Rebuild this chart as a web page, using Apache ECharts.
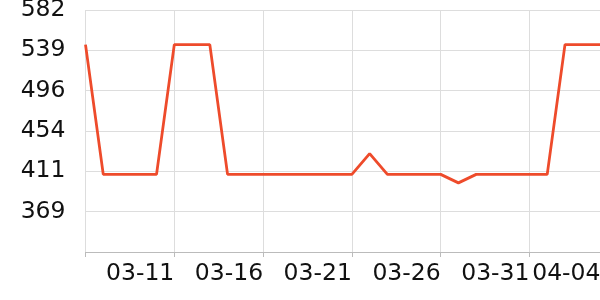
<!DOCTYPE html>
<html>
<head>
<meta charset="utf-8">
<script src="https://cdn.jsdelivr.net/npm/echarts@6/dist/echarts.min.js"></script>
<style>html,body{margin:0;padding:0;background:#fff}#c{width:600px;height:300px}</style>
</head>
<body>
<div id="c"></div>
<script>
const categories = ['03-06','03-07','03-08','03-09','03-10','03-11','03-12','03-13','03-14','03-15',
  '03-16','03-17','03-18','03-19','03-20','03-21','03-22','03-23','03-24','03-25',
  '03-26','03-27','03-28','03-29','03-30','03-31','04-01','04-02','04-03','04-04'];
const values = [545,408,408,408,408,545,545,545,408,408,
  408,408,408,408,408,408,430,408,408,408,
  408,399,408,408,408,408,408,545,545,545];
const labelIdx = [5,10,15,20,25,29];
const tickIdx = [0,5,10,15,20,25];
const yMin = 326, yMax = 581.6, yStep = 42.6;

const chart = echarts.init(document.getElementById('c'), null, {renderer:'canvas'});
chart.setOption({
  animation:false,
  grid:{left:85.5, top:10, width:515, height:242, containLabel:false, outerBoundsMode:'none'},
  xAxis:{
    type:'category', data:categories, boundaryGap:false,
    axisLine:{show:true, lineStyle:{color:'#bbbbbb', width:1}},
    axisTick:{show:true, length:5, interval:(i)=>tickIdx.includes(i), lineStyle:{color:'#bbbbbb'}},
    splitLine:{show:true, interval:(i)=>tickIdx.includes(i), lineStyle:{color:'#dddddd', width:1}},
    axisLabel:{interval:(i)=>labelIdx.includes(i), align:'right', margin:10,
      fontFamily:'DejaVu Sans', fontSize:23.5, color:'#111'}
  },
  yAxis:{
    type:'value', min:yMin, max:yMax, interval:yStep,
    axisLine:{show:false}, axisTick:{show:false},
    splitLine:{show:true, lineStyle:{color:'#dddddd', width:1}},
    axisLabel:{showMinLabel:false, margin:20, fontFamily:'DejaVu Sans', fontSize:23.5, color:'#111',
      formatter:(v)=>String(Math.round(v))}
  },
  series:[{
    type:'line', data:values, symbol:'none',
    lineStyle:{color:'#ee4b2b', width:2.8}
  }]
});
</script>
</body>
</html>
